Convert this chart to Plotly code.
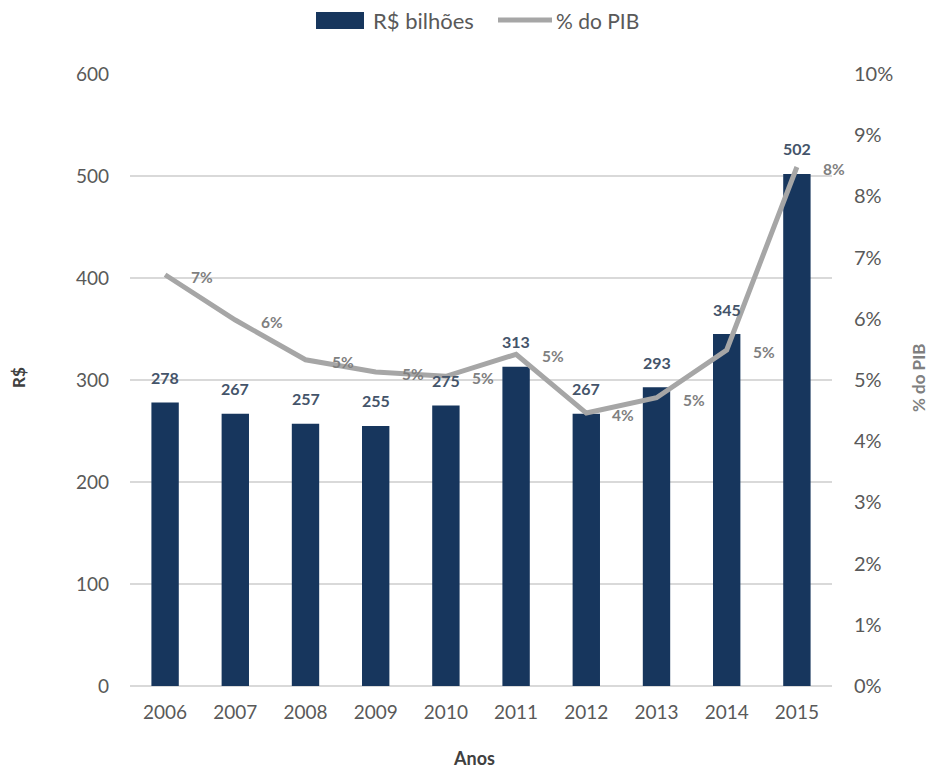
import plotly.graph_objects as go

# Gasto anual: valores em R$ bilhões e participação no PIB
anos = ["2006", "2007", "2008", "2009", "2010", "2011", "2012", "2013", "2014", "2015"]
rs_bilhoes = [278, 267, 257, 255, 275, 313, 267, 293, 345, 502]
pct_pib = [6.72, 5.98, 5.33, 5.13, 5.06, 5.42, 4.46, 4.71, 5.49, 8.48]

left_ticks = [0, 100, 200, 300, 400, 500, 600]
right_ticks = list(range(0, 11))
right_tick_text = [f"{v}%" for v in right_ticks]

BAR_COLOR = "#17365D"
LINE_COLOR = "#A6A6A6"
FONT = "Lato, 'Open Sans', sans-serif"

W, H = 928, 768
ML, MR, MT, MB = 130, 96, 74, 82
pw, ph = W - ML - MR, H - MT - MB


def px_x(x):
    return (x - ML) / pw


def px_y(y):
    return 1 - (y - MT) / ph


fig = go.Figure()

fig.add_trace(go.Bar(
    x=anos, y=rs_bilhoes, name="R$ bilhões",
    marker=dict(color=BAR_COLOR, line=dict(width=0)),
    width=0.39, yaxis="y", showlegend=False,
))

fig.add_trace(go.Scatter(
    x=anos, y=pct_pib, name="% do PIB", mode="lines",
    line=dict(color=LINE_COLOR, width=5), yaxis="y2", showlegend=False,
))

annotations = []
# Rótulos das barras
for i, v in enumerate(rs_bilhoes):
    annotations.append(dict(
        x=i, y=v, xref="x", yref="y", text=f"<b>{v}</b>", showarrow=False,
        xanchor="center", yanchor="middle", yshift=25,
        font=dict(family=FONT, size=16, color="#44546A"),
    ))
# Rótulos da linha
for i, p in enumerate(pct_pib):
    annotations.append(dict(
        x=i, y=p, xref="x", yref="y2", text=f"<b>{round(p)}%</b>", showarrow=False,
        xanchor="center", yanchor="middle", xshift=37, yshift=-2,
        font=dict(family=FONT, size=15.5, color="#7F7F7F"),
    ))


def paper_text(x, y, text, size, color, angle=0, xanchor="center"):
    return dict(x=px_x(x), y=px_y(y), xref="paper", yref="paper", text=text,
                showarrow=False, textangle=angle, xanchor=xanchor, yanchor="middle",
                font=dict(family=FONT, size=size, color=color))


# Títulos dos eixos
annotations += [
    paper_text(18, 378, "<b>R$</b>", 17, "#404040", angle=-90),
    paper_text(918, 378, "<b>% do PIB</b>", 17, "#7F7F7F", angle=-90),
    paper_text(474, 758, "<b>Anos</b>", 18, "#404040"),
]
# Legenda
annotations += [
    paper_text(371, 20, "R$ bilhões", 22, "#595959", xanchor="left"),
    paper_text(554, 20, "% do PIB", 21, "#595959", xanchor="left"),
]
shapes = [
    dict(type="rect", xref="paper", yref="paper", x0=px_x(316), x1=px_x(364),
         y0=px_y(29), y1=px_y(12), fillcolor=BAR_COLOR, line=dict(width=0)),
    dict(type="line", xref="paper", yref="paper", x0=px_x(498), x1=px_x(552),
         y0=px_y(20), y1=px_y(20), line=dict(color=LINE_COLOR, width=5)),
]

fig.update_layout(
    width=W, height=H,
    margin=dict(l=ML, r=MR, t=MT, b=MB, pad=0, autoexpand=False),
    paper_bgcolor="white", plot_bgcolor="white",
    font=dict(family=FONT, size=18, color="#595959"),
    bargap=0.61,
    showlegend=False,
    xaxis=dict(type="category", categoryorder="array", categoryarray=anos,
               range=[-0.5, 9.5], showgrid=False, showline=False, ticks="",
               ticklabelstandoff=13, tickfont=dict(size=19, color="#595959")),
    yaxis=dict(range=[0, 600], tickvals=left_ticks, showgrid=True, gridcolor="#D9D9D9",
               gridwidth=1.5, zeroline=True, zerolinecolor="#D9D9D9", zerolinewidth=1.5,
               showline=False, ticks="", ticklabelstandoff=20,
               tickfont=dict(size=19, color="#595959")),
    yaxis2=dict(range=[0, 10], tickvals=right_ticks, ticktext=right_tick_text,
                overlaying="y", side="right", showgrid=False, zeroline=False,
                showline=False, ticks="", ticklabelstandoff=21,
                tickfont=dict(size=20, color="#595959")),
    annotations=annotations,
    shapes=shapes,
)

fig.write_html("out.html")
